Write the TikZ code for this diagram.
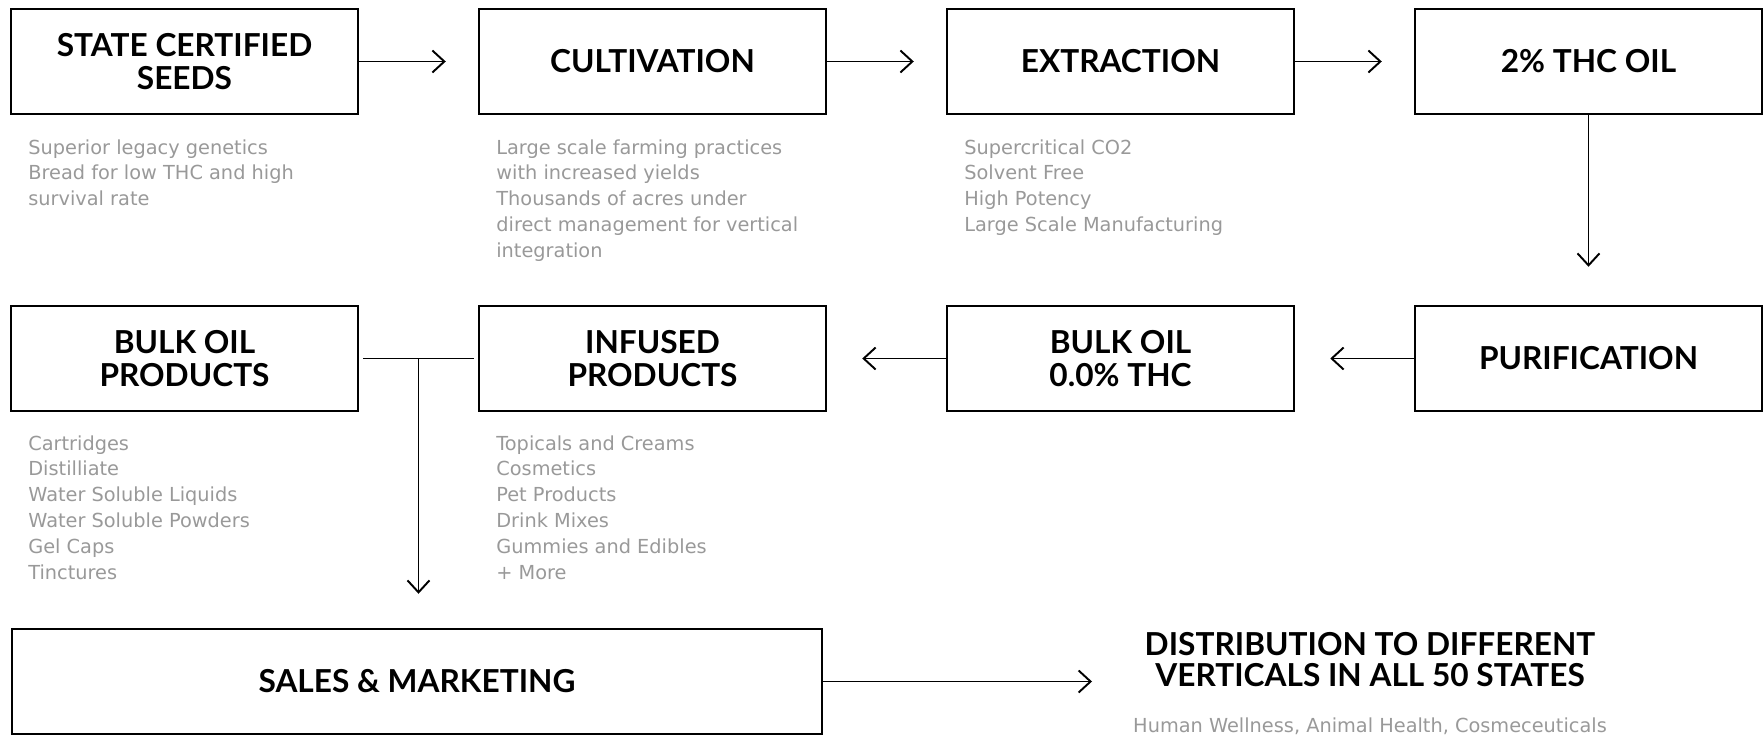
\documentclass[tikz,border=0pt]{standalone}
\usepackage{fontspec}
\usetikzlibrary{arrows.meta}
\usetikzlibrary{calc}
\newfontfamily\headfont{Lato}
\newfontfamily\descfont{DejaVu Sans}
\definecolor{descgray}{RGB}{153,153,153}

\begin{document}
\begin{tikzpicture}[
        stage/.style={draw, line width=1.4pt, minimum width=6.94cm, minimum height=2.1cm,
            align=center, inner sep=0pt, font=\headfont\bfseries\fontsize{18}{18.5}\selectfont},
        heading/.style={align=center, inner sep=0pt, font=\headfont\bfseries\fontsize{18}{17.6}\selectfont},
        desc/.style={anchor=north west, align=left, inner sep=0pt, text=descgray,
            font=\descfont\fontsize{11}{14.74}\selectfont},
        flow/.style={-{Straight Barb[length=6.8pt, width=12.5pt]}, line width=1.1pt},
    ]
        \useasboundingbox (0,0) rectangle (35.28,14.88);

        % Top row
        \node[stage] (seeds) at (3.69,13.65) {STATE CERTIFIED\\SEEDS};
        \node[stage] (cult) at (13.05,13.65) {CULTIVATION};
        \node[stage] (extr) at (22.41,13.65) {EXTRACTION};
        \node[stage] (oil) at (31.77,13.65) {2\% THC OIL};

        \node[desc] (seedsdesc) at (0.56,12.10) {Superior legacy genetics\\Bread for low THC and high\\survival rate};
        \node[desc] (cultdesc) at (9.92,12.10) {Large scale farming practices\\with increased yields\\Thousands of acres under\\direct management for vertical\\integration};
        \node[desc] (extrdesc) at (19.28,12.10) {Supercritical CO2\\Solvent Free\\High Potency\\Large Scale Manufacturing};

        \foreach \a/\b in {seeds/cult, cult/extr, extr/oil} {
            \draw[flow, shorten >=0.64cm] (\a) -- (\b);
        }

        % Second row
        \node[stage] (bulkprod) at (3.69,7.71) {BULK OIL\\PRODUCTS};
        \node[stage] (infused) at (13.05,7.71) {INFUSED\\PRODUCTS};
        \node[stage] (bulkoil) at (22.41,7.71) {BULK OIL\\0.0\% THC};
        \node[stage] (purif) at (31.77,7.71) {PURIFICATION};

        \node[desc] (bulkproddesc) at (0.56,6.18) {Cartridges\\Distilliate\\Water Soluble Liquids\\Water Soluble Powders\\Gel Caps\\Tinctures};
        \node[desc] (infuseddesc) at (9.92,6.18) {Topicals and Creams\\Cosmetics\\Pet Products\\Drink Mixes\\Gummies and Edibles\\+ More};

        \draw[flow, shorten >=0.76cm] (oil) -- (purif);
        \draw[flow, shorten >=0.70cm] (purif) -- (bulkoil);
        \draw[flow, shorten >=0.70cm] (bulkoil) -- (infused);

        % Join towards sales
        \coordinate (split) at ($(bulkprod.east)!0.5!(infused.west)$);
        \draw[line width=1.1pt, shorten <=0.08cm, shorten >=0.08cm] (bulkprod) -- (infused);

        % Bottom row
        \node[stage, minimum width=16.2cm] (sales) at (8.34,1.25) {SALES \& MARKETING};
        \draw[flow, shorten >=0.68cm] (split) -- (split |- sales.north);

        \node[heading] (dist) at (27.4,1.69) {DISTRIBUTION TO DIFFERENT\\VERTICALS IN ALL 50 STATES};
        \node[desc, anchor=center] (distdesc) at (27.4,0.36) {Human Wellness, Animal Health, Cosmeceuticals};
        \coordinate (distin) at (21.84,1.25);
        \draw[flow] (sales) -- (distin);

    \end{tikzpicture}
\end{document}
